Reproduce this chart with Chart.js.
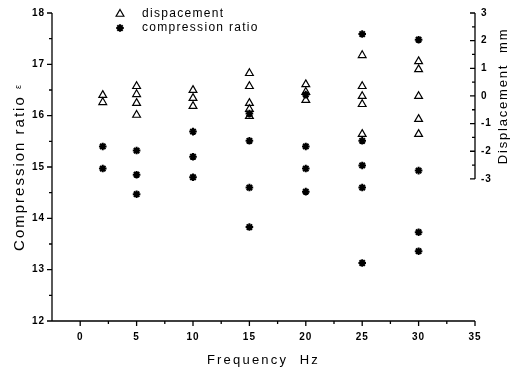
<!DOCTYPE html>
<html>
<head>
<meta charset="utf-8">
<script src="https://cdn.jsdelivr.net/npm/chart.js@4/dist/chart.umd.min.js"></script>
<style>
  html, body { margin: 0; padding: 0; background: #fff; }
</style>
</head>
<body>
<canvas id="freqChart" width="511" height="370"></canvas>
<script>
// test frequencies (Hz)
const frequencies = [2, 5, 10, 15, 20, 25, 30];
// displacement readings (mm), one list per frequency
const displacement = [
  [0.03, -0.23],
  [0.35, 0.06, -0.26, -0.69],
  [0.21, -0.08, -0.37],
  [0.82, 0.35, -0.26, -0.48, -0.73],
  [0.42, 0.14, -0.15],
  [1.47, 0.35, -0.01, -0.30, -1.38],
  [1.25, 0.96, -0.01, -0.84, -1.38]
];
// compression ratio readings, one list per frequency
const compressionRatio = [
  [15.40, 14.97],
  [15.32, 14.85, 14.47],
  [15.69, 15.20, 14.80],
  [16.04, 15.51, 14.60, 13.83],
  [16.41, 15.40, 14.97, 14.52],
  [17.59, 15.51, 15.03, 14.60, 13.13],
  [17.48, 14.93, 13.73, 13.36]
];
const freqTicks = [0, 5, 10, 15, 20, 25, 30, 35];
const ratioTicks = [12, 13, 14, 15, 16, 17, 18];
const dispTicks = [-3, -2, -1, 0, 1, 2, 3];

function toPoints(groups) {
  return frequencies.flatMap((f, i) => groups[i].map(v => ({ x: f, y: v })));
}

const triangleStyle = { pointStyle: 'triangle', radius: 4.5, borderWidth: 1.2, rotation: 0 };
const starStyle = { pointStyle: 'star', radius: 3.8, borderWidth: 2, rotation: 0 };

function fixTicks(values) {
  return scale => { scale.ticks = values.map(v => ({ value: v })); };
}

// hand-drawn axis lines with major + minor ticks
const axisMarks = {
  id: 'axisMarks',
  afterDraw(chart) {
    const ctx = chart.ctx;
    const x = chart.scales.x, y = chart.scales.y, y1 = chart.scales.y1;
    const a = chart.chartArea;
    ctx.save();
    ctx.strokeStyle = '#000';
    ctx.lineWidth = 1.3;
    ctx.beginPath();
    // left axis
    ctx.moveTo(a.left, a.top);
    ctx.lineTo(a.left, a.bottom);
    for (let v = 12; v <= 18.001; v += 0.5) {
      const py = y.getPixelForValue(v);
      const len = Number.isInteger(v) ? 5 : 3;
      ctx.moveTo(a.left - len, py);
      ctx.lineTo(a.left, py);
    }
    // bottom axis
    ctx.moveTo(a.left, a.bottom);
    ctx.lineTo(a.right, a.bottom);
    for (let v = 0; v <= 35.001; v += 2.5) {
      const px = x.getPixelForValue(v);
      const len = v % 5 === 0 ? 5 : 3;
      ctx.moveTo(px, a.bottom);
      ctx.lineTo(px, a.bottom + len);
    }
    // right axis, displacement part only
    const top = y1.getPixelForValue(3), bot = y1.getPixelForValue(-3);
    ctx.moveTo(a.right, top);
    ctx.lineTo(a.right, bot);
    for (let v = -3; v <= 3.001; v += 0.5) {
      const py = y1.getPixelForValue(v);
      const len = Number.isInteger(v) ? 5 : 3;
      ctx.moveTo(a.right - len, py);
      ctx.lineTo(a.right, py);
    }
    ctx.stroke();
    ctx.restore();
  }
};

// axis titles and the legend box
const labels = {
  id: 'labels',
  beforeDraw(chart) {
    chart.ctx.letterSpacing = '1px';
  },
  afterDraw(chart) {
    const ctx = chart.ctx;
    const a = chart.chartArea;
    const y1 = chart.scales.y1;
    ctx.save();
    ctx.fillStyle = '#000';
    ctx.textBaseline = 'middle';

    // x title
    ctx.font = '13px "Liberation Sans", Arial, sans-serif';
    ctx.letterSpacing = '2.2px';
    ctx.textAlign = 'center';
    ctx.fillText('Frequency  Hz', (a.left + a.right) / 2, 360);

    // left title
    ctx.save();
    ctx.translate(20, (a.top + a.bottom) / 2);
    ctx.rotate(-Math.PI / 2);
    ctx.textAlign = 'left';
    ctx.font = '15px "Liberation Sans", Arial, sans-serif';
    ctx.letterSpacing = '2px';
    const main = 'Compression ratio ';
    const w1 = ctx.measureText(main).width;
    ctx.font = '9px "Liberation Sans", Arial, sans-serif';
    const w2 = ctx.measureText('ε').width;
    const start = -(w1 + w2) / 2;
    ctx.font = '15px "Liberation Sans", Arial, sans-serif';
    ctx.fillText(main, start, 0);
    ctx.font = '9px "Liberation Sans", Arial, sans-serif';
    ctx.fillText('ε', start + w1, -1);
    ctx.restore();

    // right title
    ctx.save();
    ctx.translate(503, (y1.getPixelForValue(3) + y1.getPixelForValue(-3)) / 2);
    ctx.rotate(-Math.PI / 2);
    ctx.textAlign = 'center';
    ctx.font = '13px "Liberation Sans", Arial, sans-serif';
    ctx.letterSpacing = '1.8px';
    ctx.fillText('Displacement  mm', 0, 0);
    ctx.restore();

    // legend
    ctx.font = '12px "Liberation Sans", Arial, sans-serif';
    ctx.letterSpacing = '1.3px';
    ctx.textAlign = 'left';
    const rows = [
      { text: 'dispacement', style: triangleStyle, fill: 'rgba(0,0,0,0)', y: 14 },
      { text: 'compression ratio', style: starStyle, fill: '#000', y: 28 }
    ];
    rows.forEach(r => {
      ctx.strokeStyle = '#000';
      ctx.fillStyle = r.fill;
      ctx.lineWidth = r.style.borderWidth;
      Chart.helpers.drawPoint(ctx, r.style, 120, r.y);
      ctx.fillStyle = '#000';
      ctx.fillText(r.text, 142, r.y);
    });
    ctx.restore();
  }
};

const tickFont = { family: '"Liberation Sans", Arial, sans-serif', size: 10, weight: 'bold' };

new Chart(document.getElementById('freqChart'), {
  type: 'scatter',
  data: {
    datasets: [
      {
        label: 'dispacement',
        data: toPoints(displacement),
        yAxisID: 'y1',
        pointStyle: 'triangle',
        pointRadius: triangleStyle.radius,
        borderWidth: triangleStyle.borderWidth,
        borderColor: '#000',
        backgroundColor: 'rgba(0,0,0,0)'
      },
      {
        label: 'compression ratio',
        data: toPoints(compressionRatio),
        yAxisID: 'y',
        pointStyle: 'star',
        pointRadius: starStyle.radius,
        borderWidth: starStyle.borderWidth,
        borderColor: '#000',
        backgroundColor: '#000'
      }
    ]
  },
  options: {
    responsive: false,
    animation: false,
    devicePixelRatio: 1,
    layout: { padding: { top: 12, left: 0, right: 0, bottom: 0 } },
    plugins: {
      legend: { display: false },
      tooltip: { enabled: false }
    },
    scales: {
      x: {
        type: 'linear',
        min: -2.5,
        max: 35,
        afterBuildTicks: fixTicks(freqTicks),
        afterFit: s => { s.height = 49; },
        grid: { display: false, drawTicks: false },
        border: { display: false },
        ticks: { color: '#000', font: tickFont, padding: 10, maxRotation: 0 }
      },
      y: {
        type: 'linear',
        position: 'left',
        min: 12,
        max: 18,
        afterBuildTicks: fixTicks(ratioTicks),
        afterFit: s => { s.width = 52; },
        grid: { display: false, drawTicks: false },
        border: { display: false },
        ticks: { color: '#000', font: tickFont, padding: 7 }
      },
      y1: {
        type: 'linear',
        position: 'right',
        min: -8.14,
        max: 3,
        afterBuildTicks: fixTicks(dispTicks),
        afterFit: s => { s.width = 36; },
        grid: { display: false, drawTicks: false },
        border: { display: false },
        ticks: { color: '#000', font: tickFont, padding: 6 }
      }
    }
  },
  plugins: [axisMarks, labels]
});
</script>
</body>
</html>
